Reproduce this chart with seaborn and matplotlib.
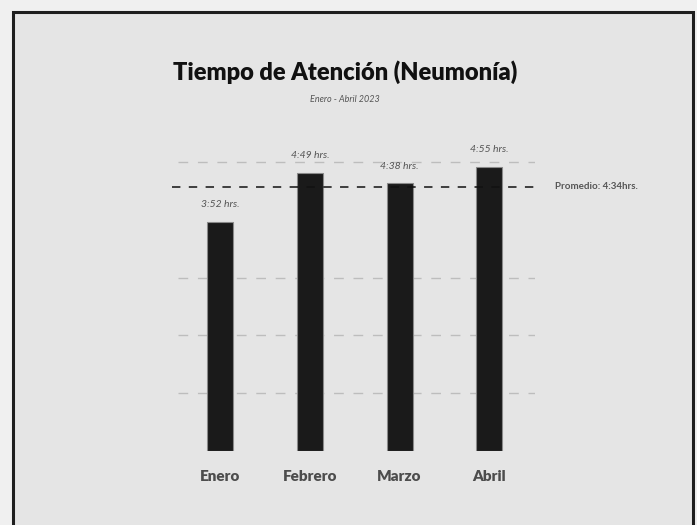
import pandas as pd
import matplotlib.pyplot as plt
import seaborn as sns
from matplotlib.patches import Rectangle

meses = ['Enero', 'Febrero', 'Marzo', 'Abril']
minutos = [238, 289, 278, 295]
etiquetas = ['3:52 hrs.', '4:49 hrs.', '4:38 hrs.', '4:55 hrs.']
promedio = 274
promedio_txt = 'Promedio: 4:34hrs.'
lineas_guia = [60, 120, 180, 300]

df = pd.DataFrame({'Mes': meses, 'Minutos': minutos})

sns.set_style('white')
plt.rcParams['font.family'] = ['Lato', 'DejaVu Sans']
narrow = ['Liberation Sans Narrow', 'Lato', 'DejaVu Sans']

fig = plt.figure(figsize=(6.97, 5.25), dpi=100, facecolor='#f0f0f0')

# marco de la figura
marco = Rectangle((12.5 / 697, -0.1), (693 - 12.5) / 697, 1.1 - 12.5 / 525,
                  transform=fig.transFigure, facecolor='#e5e5e5',
                  edgecolor='#1e1e1e', linewidth=2.2, zorder=-5)
fig.patches.append(marco)

ax = fig.add_axes([178 / 697, 1 - 451 / 525, 357 / 697, 318 / 525])
ax.set_facecolor('none')
ax.set_zorder(2)

sns.barplot(data=df, x='Mes', y='Minutos', color='#1a1a1a', width=0.29,
            edgecolor='#8a8a8a', linewidth=0.8, saturation=1, ax=ax, zorder=3)

ax.set_xlim(-0.47, 3.51)
ax.set_ylim(0, 330)

# lineas guia
for v in lineas_guia:
    ax.axhline(v, color='#bdbdbd', lw=1.0, ls=(0, (7, 7)), zorder=1)

# linea del promedio
ax.axhline(promedio, xmin=-0.017, xmax=1.01, color='#111111', lw=1.1,
           ls=(0, (5.5, 5.5)), clip_on=False, zorder=4)
ax.annotate(promedio_txt, xy=(1.056, promedio), xycoords=('axes fraction', 'data'),
            va='center', ha='left', fontsize=7, color='#555555',
            family=narrow, fontweight='bold')

for i, (v, t) in enumerate(zip(minutos, etiquetas)):
    ax.annotate(t, xy=(i, v), xytext=(0, 9), textcoords='offset points',
                ha='center', va='bottom', fontsize=7.5, color='#555555',
                style='italic', family=narrow)

ax.set_xlabel('')
ax.set_ylabel('')
ax.set_yticks([])
ax.tick_params(axis='x', length=0, pad=14)
for lbl in ax.get_xticklabels():
    lbl.set_fontweight('heavy')
    lbl.set_fontsize(11)
    lbl.set_color('#4d4d4d')
sns.despine(ax=ax, left=True, bottom=True)

fig.text(345 / 697, 1 - 72 / 525, 'Tiempo de Atención (Neumonía)', ha='center',
         va='center', fontsize=17, fontweight='heavy', color='#111111')
fig.text(345 / 697, 1 - 100 / 525, 'Enero - Abril 2023', ha='center', va='center',
         fontsize=6.5, style='italic', color='#555555', family=narrow)

fig.savefig('out.png', dpi=100, facecolor=fig.get_facecolor())
